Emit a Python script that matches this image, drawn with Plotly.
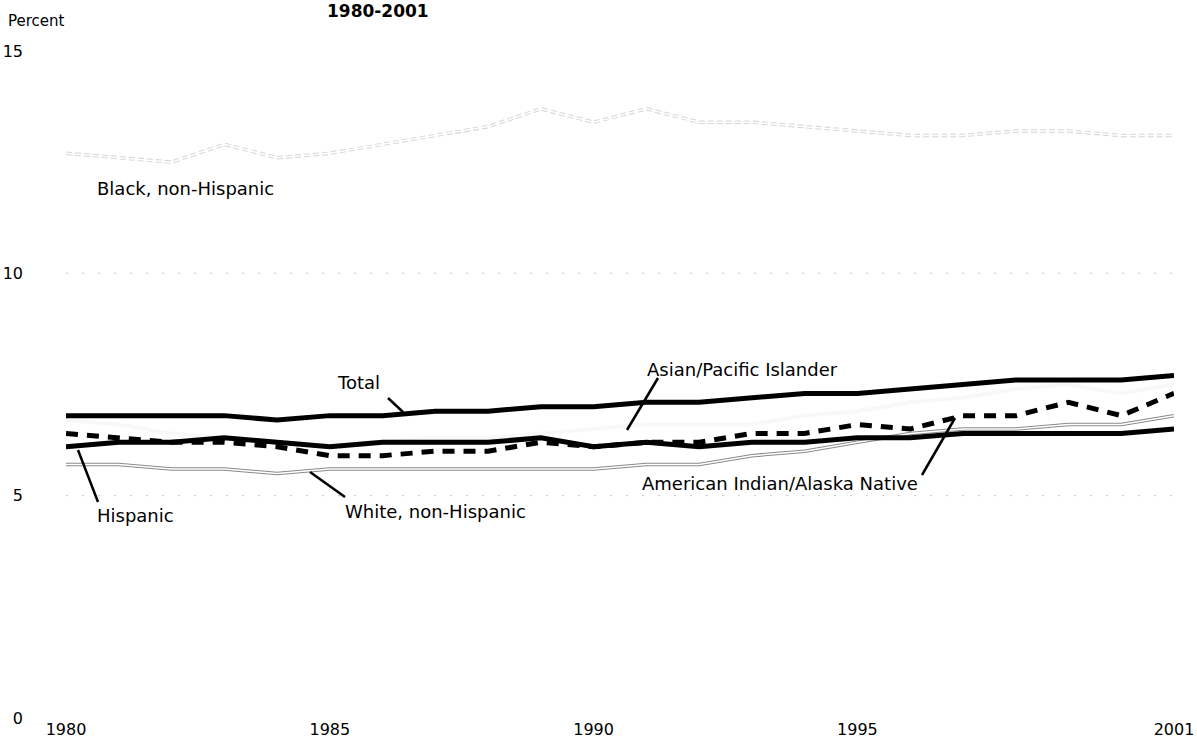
import plotly.graph_objects as go

years = list(range(1980, 2002))

total = [6.8, 6.8, 6.8, 6.8, 6.7, 6.8, 6.8, 6.9, 6.9, 7.0, 7.0,
         7.1, 7.1, 7.2, 7.3, 7.3, 7.4, 7.5, 7.6, 7.6, 7.6, 7.7]
black_nh = [12.7, 12.6, 12.5, 12.9, 12.6, 12.7, 12.9, 13.1, 13.3, 13.7, 13.4,
            13.7, 13.4, 13.4, 13.3, 13.2, 13.1, 13.1, 13.2, 13.2, 13.1, 13.1]
hispanic = [6.1, 6.2, 6.2, 6.3, 6.2, 6.1, 6.2, 6.2, 6.2, 6.3, 6.1,
            6.2, 6.1, 6.2, 6.2, 6.3, 6.3, 6.4, 6.4, 6.4, 6.4, 6.5]
am_indian = [6.4, 6.3, 6.2, 6.2, 6.1, 5.9, 5.9, 6.0, 6.0, 6.2, 6.1,
             6.2, 6.2, 6.4, 6.4, 6.6, 6.5, 6.8, 6.8, 7.1, 6.8, 7.3]
white_nh = [5.7, 5.7, 5.6, 5.6, 5.5, 5.6, 5.6, 5.6, 5.6, 5.6, 5.6,
            5.7, 5.7, 5.9, 6.0, 6.2, 6.4, 6.5, 6.5, 6.6, 6.6, 6.8]
asian_pi = [6.7, 6.6, 6.4, 6.3, 6.2, 6.2, 6.2, 6.3, 6.3, 6.4, 6.5,
            6.6, 6.6, 6.6, 6.8, 6.9, 7.1, 7.2, 7.4, 7.5, 7.3, 7.5]

x_ticks = [1980, 1985, 1990, 1995, 2001]
y_ticks = [0, 5, 10, 15]
grid_levels = [5, 10]

FONT = "DejaVu Sans"

# Page body margin is removed (post_script), so the figure sits at (0, 0).
W, H = 1197, 747
# plot area in page pixels: x 66..1174, y 51..718
L, R, T, B = 66, W - 1174, 51, H - 718
pw = W - L - R
ph = H - T - B


def X(px):
    return 1980 + (px - L) / pw * 21


def Y(py):
    return (H - B - py) / ph * 15


def XP(px):
    return (px - L) / pw


def YP(py):
    return (H - B - py) / ph


fig = go.Figure()

# Asian/Pacific Islander (lost in the scan: very faint)
fig.add_trace(go.Scatter(x=years, y=asian_pi, mode="lines",
                         line=dict(color="#f8f8f8", width=4),
                         name="Asian/Pacific Islander", hoverinfo="skip"))
# Black, non-Hispanic: faint outlined line
fig.add_trace(go.Scatter(x=years, y=black_nh, mode="lines",
                         line=dict(color="#d6d6d6", width=3.5, dash="6px,3px"),
                         name="Black, non-Hispanic"))
fig.add_trace(go.Scatter(x=years, y=black_nh, mode="lines",
                         line=dict(color="white", width=1.5),
                         showlegend=False, hoverinfo="skip"))
# White, non-Hispanic: outlined thin line
fig.add_trace(go.Scatter(x=years, y=white_nh, mode="lines",
                         line=dict(color="#8a8a8a", width=3.5),
                         name="White, non-Hispanic"))
fig.add_trace(go.Scatter(x=years, y=white_nh, mode="lines",
                         line=dict(color="white", width=1.5),
                         showlegend=False, hoverinfo="skip"))
# Hispanic
fig.add_trace(go.Scatter(x=years, y=hispanic, mode="lines",
                         line=dict(color="black", width=5),
                         name="Hispanic"))
# American Indian/Alaska Native
fig.add_trace(go.Scatter(x=years, y=am_indian, mode="lines",
                         line=dict(color="black", width=5, dash="12px,9px"),
                         name="American Indian/Alaska Native"))
# Total
fig.add_trace(go.Scatter(x=years, y=total, mode="lines",
                         line=dict(color="black", width=5),
                         name="Total"))

shapes = []
for g in grid_levels:
    shapes.append(dict(type="line", xref="paper", yref="y", x0=0, x1=1,
                       y0=g, y1=g, layer="below",
                       line=dict(color="#c4c4c4", width=1, dash="2px,14px")))

pointers = [
    ((388, 398), (403, 412)),   # Total
    ((658, 378), (627, 430)),   # Asian/Pacific Islander
    ((78, 450), (98, 502)),     # Hispanic
    ((310, 472), (345, 497)),   # White, non-Hispanic
    ((955, 418), (922, 475)),   # American Indian/Alaska Native
]
for (a, b) in pointers:
    shapes.append(dict(type="line", xref="x", yref="y",
                       x0=X(a[0]), y0=Y(a[1]), x1=X(b[0]), y1=Y(b[1]),
                       line=dict(color="black", width=2.5)))

labels = [
    ("Black, non-Hispanic", 95, 188),
    ("Total", 335, 382),
    ("Asian/Pacific Islander", 645, 369),
    ("Hispanic", 95, 515),
    ("White, non-Hispanic", 343, 511),
    ("American Indian/Alaska Native", 640, 483),
]
annotations = []
for text, px, py in labels:
    annotations.append(dict(text=text, x=X(px), y=Y(py), xref="x", yref="y",
                            xanchor="left", yanchor="middle", showarrow=False,
                            font=dict(family=FONT, size=18, color="black")))

annotations.append(dict(text="Percent", x=XP(6), y=YP(21),
                        xref="paper", yref="paper", xanchor="left",
                        yanchor="middle", showarrow=False,
                        font=dict(family=FONT, size=15, color="black")))
annotations.append(dict(text="<b>1980-2001</b>", x=XP(378), y=YP(11),
                        xref="paper", yref="paper", xanchor="center",
                        yanchor="middle", showarrow=False,
                        font=dict(family=FONT, size=17, color="black")))

fig.update_layout(
    width=W, height=H,
    margin=dict(l=L, r=R, t=T, b=B, pad=0, autoexpand=False),
    paper_bgcolor="white", plot_bgcolor="white",
    showlegend=False,
    shapes=shapes,
    annotations=annotations,
    xaxis=dict(range=[1980, 2001], tickvals=x_ticks,
               ticktext=[str(v) for v in x_ticks],
               showgrid=False, zeroline=False, showline=False, ticks="",
               automargin=False,
               tickfont=dict(family=FONT, size=16, color="black")),
    yaxis=dict(range=[0, 15], tickvals=y_ticks,
               ticktext=[str(v) for v in y_ticks],
               showgrid=False, zeroline=False, showline=False, ticks="",
               automargin=False, ticklabelstandoff=42,
               tickfont=dict(family=FONT, size=16, color="black")),
)

fig.write_html(
    "out.html",
    config={"displayModeBar": False},
    post_script=("document.body.style.margin='0';"
                 "document.body.style.overflow='hidden';"
                 "document.documentElement.style.overflow='hidden';"),
)
